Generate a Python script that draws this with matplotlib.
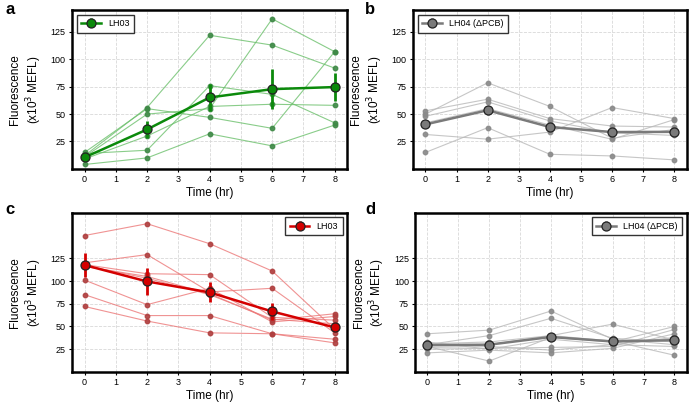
import numpy as np
import matplotlib
matplotlib.use("Agg")
import matplotlib.pyplot as plt

plt.rcParams['font.family'] = ['Liberation Sans', 'DejaVu Sans']

time_hr = [0, 2, 4, 6, 8]

# panel a: LH03 (green), individual replicates
a_reps = [
    [12, 56, 122, 113, 92],
    [14, 17, 76, 68, 42],
    [4, 10, 32, 21, 40],
    [15, 55, 47, 37, 107],
    [11, 50, 55, 137, 107],
    [9, 30, 57, 59, 58],
]
a_mean = [10.5, 36, 65.2, 72.8, 74.7]
a_err = [2, 8, 12.5, 18.5, 13]

# panel b: LH04 (dPCB), grey
b_reps = [
    [50, 78.6, 57, 28, 36],
    [15, 37.6, 13.3, 11.8, 8.2],
    [31.4, 27.1, 33.6, 56, 45.9],
    [53, 63.6, 45.9, 39.1, 38.2],
    [48, 61.2, 43.7, 33, 30.5],
    [42, 55, 40, 27, 45],
]
b_mean = [40.6, 53.5, 38.2, 33.6, 33.8]
b_err = [3, 4, 2, 2, 2]

# panel c: LH03 (red)
c_reps = [
    [150, 163, 141, 111, 47],
    [120, 129, 88, 92, 43],
    [118, 108, 107, 60, 57],
    [116, 105, 86, 57, 64],
    [101, 74, 92, 55, 61],
    [85, 62, 62, 42, 36],
    [72, 56, 43, 42, 32],
    [117, 103, 85, 58, 53],
]
c_mean = [117.5, 99.5, 87.5, 66.5, 49]
c_err = [13, 15, 11, 9, 5]

# panel d: LH04 (dPCB), grey
d_reps = [
    [42, 46, 67, 36, 30],
    [30, 40, 59, 37, 33],
    [28, 12, 38, 33, 50],
    [29, 30, 40, 52.6, 35],
    [25, 26, 27, 28, 46.7],
    [21, 24, 21, 26, 42],
    [31, 33, 40, 34, 18.4],
    [27, 28, 24, 30, 28],
    [33, 25, 36, 30, 38],
]
d_mean = [29.5, 30, 38.5, 33.5, 35]
d_err = [3, 4, 3, 2, 3]

ytick_vals = [25, 50, 75, 100, 125]

panels = [
    # letter, rect, reps, mean, err, line col, dot col, mean col, label, ymax, legend loc
    ('a', [0.104, 0.581, 0.397, 0.394], a_reps, a_mean, a_err,
     '#6cc06c', '#3f8a47', '#0b8a0b', 'LH03', 145, 'upper left'),
    ('b', [0.596, 0.581, 0.395, 0.394], b_reps, b_mean, b_err,
     '#b8b8b8', '#8a8a8a', '#7a7a7a', 'LH04 (\u0394PCB)', 145, 'upper left'),
    ('c', [0.104, 0.077, 0.397, 0.395], c_reps, c_mean, c_err,
     '#ec7878', '#b04040', '#d40000', 'LH03', 175, 'upper right'),
    ('d', [0.599, 0.077, 0.392, 0.395], d_reps, d_mean, d_err,
     '#b8b8b8', '#8a8a8a', '#7a7a7a', 'LH04 (\u0394PCB)', 175, 'upper right'),
]

fig = plt.figure(figsize=(6.93, 4.03), dpi=100)

for letter, rect, reps, mean, err, lcol, dcol, mcol, label, ymax, loc in panels:
    ax = fig.add_axes(rect)
    for r in reps:
        ax.plot(time_hr, r, color=lcol, lw=0.8, alpha=0.8, zorder=2)
        ax.plot(time_hr, r, ls='none', marker='o', ms=3.2, color=dcol,
                mec=dcol, alpha=0.9, zorder=3)
    ax.errorbar(time_hr, mean, yerr=err, color=mcol, lw=1.8, elinewidth=2.0,
                capsize=0, marker='o', ms=6.5, mfc=mcol, mec='#222222', mew=0.9,
                label=label, zorder=5)
    ax.set_xlim(-0.4, 8.4)
    ax.set_ylim(0, ymax)
    ax.set_xticks(range(9))
    ax.set_yticks(ytick_vals)
    ax.tick_params(labelsize=6.5, length=2.5, width=0.8, pad=2)
    ax.grid(True, ls='--', lw=0.6, color='#d8d8d8', zorder=0)
    ax.set_axisbelow(True)
    for s in ax.spines.values():
        s.set_linewidth(1.8)
        s.set_color('black')
    ax.set_xlabel('Time (hr)', fontsize=8.5, labelpad=2)
    ax.set_ylabel('Fluorescence\n(x10$^3$ MEFL)', fontsize=8.5, labelpad=5)
    leg = ax.legend(loc=loc, fontsize=6.5, fancybox=False, framealpha=1,
                    edgecolor='#333333', handlelength=2.2, borderpad=0.5)
    leg.get_frame().set_linewidth(1.0)
    if letter in 'ab':
        ly = 0.995
    else:
        ly = 0.5
    lx = 0.008 if letter in 'ac' else 0.527
    fig.text(lx, ly, letter, fontsize=12, fontweight='bold', va='top')

fig.savefig('out.png', dpi=100)
